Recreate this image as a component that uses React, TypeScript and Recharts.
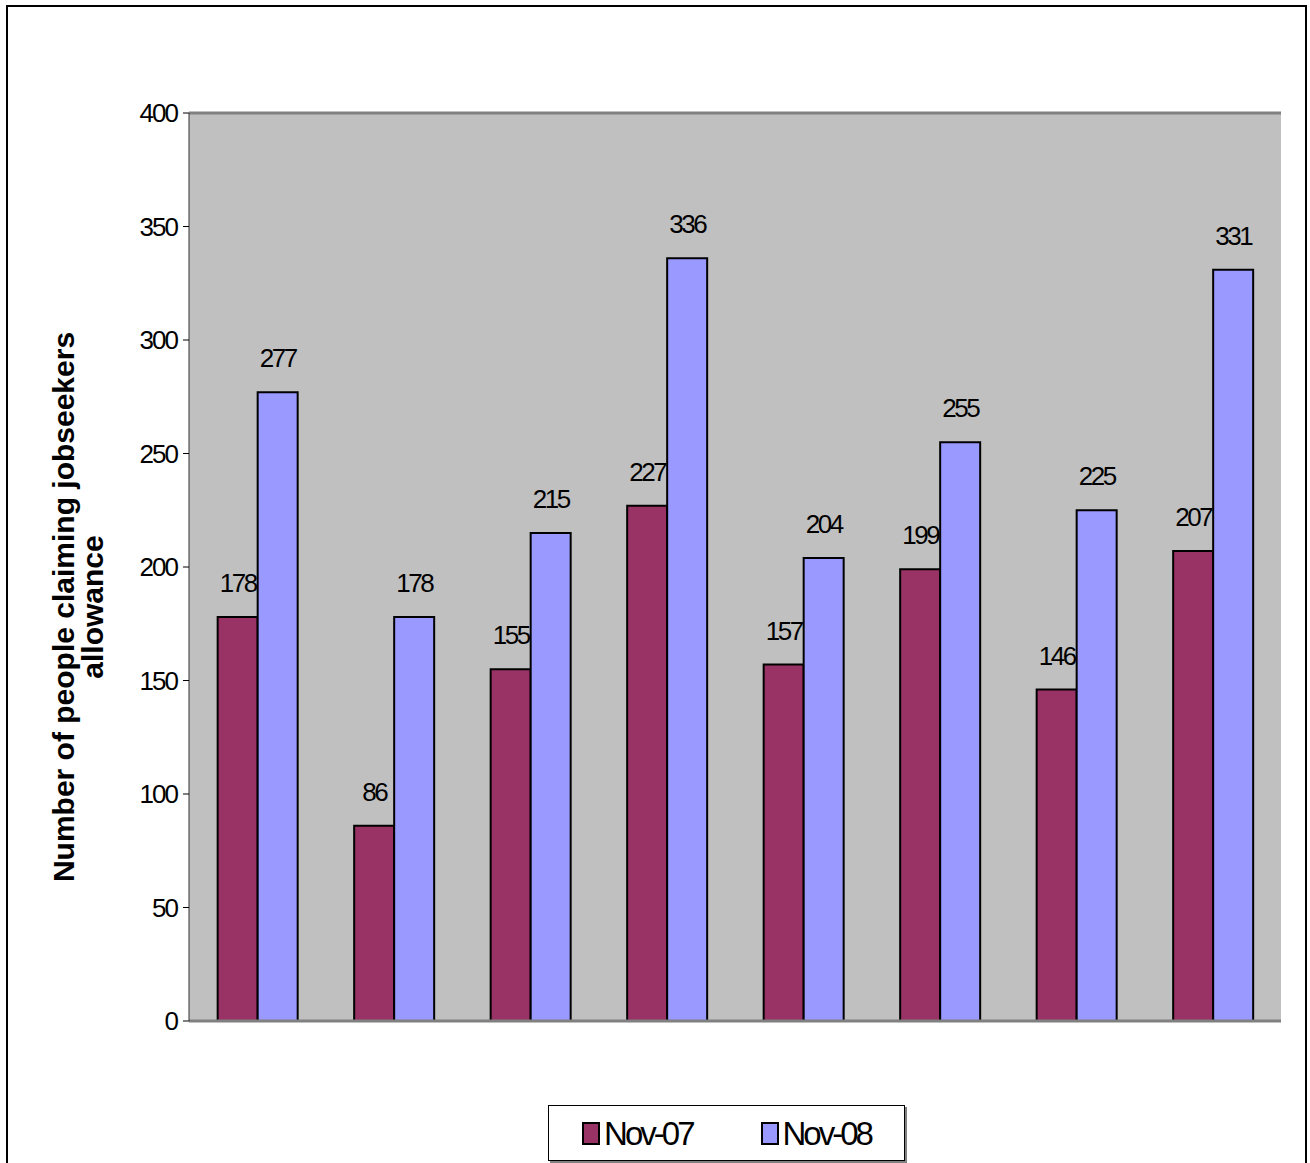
import React from 'react';
import { BarChart, Bar, XAxis, YAxis, CartesianGrid, LabelList, ReferenceLine } from 'recharts';

const categories = ['1', '2', '3', '4', '5', '6', '7', '8'];
const nov07 = [178, 86, 155, 227, 157, 199, 146, 207];
const nov08 = [277, 178, 215, 336, 204, 255, 225, 331];
const yTicks = [0, 50, 100, 150, 200, 250, 300, 350, 400];

const data = categories.map((c, i) => ({ name: c, nov07: nov07[i], nov08: nov08[i] }));

const FONT = '"Liberation Sans", Arial, sans-serif';
const C07 = '#993366';
const C08 = '#9999FF';

const YLabel = ({ viewBox }: any) => {
  const cy = viewBox.y + viewBox.height / 2 + 40;
  return (
    <g>
      <text x={63} y={cy} transform={`rotate(-90, 63, ${cy})`} textAnchor="middle" dominantBaseline="central"
        style={{ fontFamily: FONT, fontWeight: 'bold', fontSize: 30 }} fill="#000">
        Number of people claiming jobseekers
      </text>
      <text x={92} y={cy} transform={`rotate(-90, 92, ${cy})`} textAnchor="middle" dominantBaseline="central"
        style={{ fontFamily: FONT, fontWeight: 'bold', fontSize: 30 }} fill="#000">
        allowance
      </text>
    </g>
  );
};

const tickStyle = { fontFamily: FONT, fontSize: 26, fill: '#000', letterSpacing: -2 };
const labelStyle = { fontFamily: FONT, fontSize: 26, letterSpacing: -2.5 };

function LegendItem({ color, text }: { color: string; text: string }) {
  return (
    <span style={{ display: 'flex', alignItems: 'center' }}>
      <span style={{ width: 14, height: 19, background: color, border: '2px solid #000', marginRight: 4 }} />
      <span style={{ fontFamily: FONT, fontSize: 33, letterSpacing: -3, lineHeight: 1 }}>{text}</span>
    </span>
  );
}

export default function App() {
  return (
    <div style={{ position: 'absolute', left: 0, top: 0, width: 1310, height: 1163, overflow: 'hidden', background: '#fff' }}>
      <div style={{ position: 'absolute', left: 6, top: 5, width: 1301, height: 1180, border: '2px solid #000', boxSizing: 'border-box' }} />
      <div style={{ position: 'absolute', left: 0, top: 0 }}>
        <BarChart width={1310} height={1163} data={data} barGap={0} barCategoryGap="21%"
          margin={{ top: 113, right: 29, left: 0, bottom: 142 }}>
          <CartesianGrid fill="#C0C0C0" horizontal={false} vertical={false} />
          <XAxis dataKey="name" height={0} tick={false} tickLine={false} axisLine={false} />
          <YAxis yAxisId="left" width={189} domain={[0, 400]} ticks={yTicks} interval={0}
            tick={tickStyle} tickSize={6} tickMargin={6}
            tickLine={{ stroke: '#000' }} axisLine={{ stroke: '#333', strokeWidth: 1 }}
            label={<YLabel />} />
          <YAxis yAxisId="right" orientation="right" width={0} domain={[0, 400]} ticks={yTicks}
            tick={false} tickLine={false} axisLine={{ stroke: '#808080', strokeWidth: 3 }} />
          <ReferenceLine yAxisId="left" y={400} stroke="#808080" strokeWidth={3} />
          <Bar yAxisId="left" dataKey="nov07" fill={C07} stroke="#000" strokeWidth={2} isAnimationActive={false}>
            <LabelList dataKey="nov07" position="top" offset={25} fill="#000" style={labelStyle} />
          </Bar>
          <Bar yAxisId="left" dataKey="nov08" fill={C08} stroke="#000" strokeWidth={2} isAnimationActive={false}>
            <LabelList dataKey="nov08" position="top" offset={25} fill="#000" style={labelStyle} />
          </Bar>
          <ReferenceLine yAxisId="left" y={0} stroke="#808080" strokeWidth={3} />
        </BarChart>
      </div>
      <div style={{
        position: 'absolute', left: 548, top: 1105, width: 357, height: 56, boxSizing: 'border-box',
        border: '1px solid #000', boxShadow: '2px 2px 0 #808080', background: '#fff',
        display: 'flex', alignItems: 'center', justifyContent: 'center', gap: 68,
      }}>
        <LegendItem color={C07} text="Nov-07" />
        <LegendItem color={C08} text="Nov-08" />
      </div>
    </div>
  );
}
